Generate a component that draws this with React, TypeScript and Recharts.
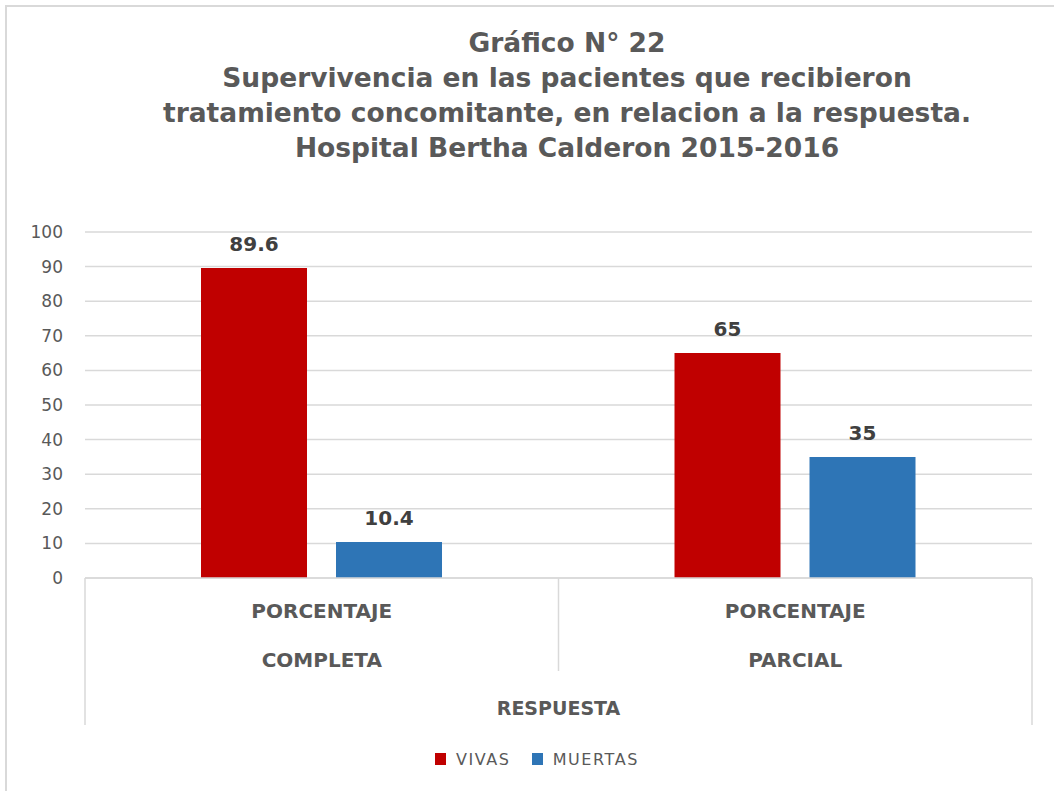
import React from 'react';
import {
  BarChart,
  Bar,
  XAxis,
  YAxis,
  CartesianGrid,
  Legend,
  LabelList,
} from 'recharts';

const categories = ['COMPLETA', 'PARCIAL'];
const metricLabels = ['PORCENTAJE', 'PORCENTAJE'];
const seriesNames = ['VIVAS', 'MUERTAS'];
const vivas = [89.6, 65];
const muertas = [10.4, 35];
const yTicks = [0, 10, 20, 30, 40, 50, 60, 70, 80, 90, 100];
const titleLines = [
  'Gráfico N° 22',
  'Supervivencia en las pacientes que recibieron',
  'tratamiento concomitante, en relacion a la respuesta.',
  'Hospital Bertha Calderon 2015-2016',
];

const data = categories.map((c, i) => ({
  respuesta: c,
  metric: metricLabels[i],
  vivas: vivas[i],
  muertas: muertas[i],
}));

const W = 1054;
const H = 791;
const margin = { top: 232, right: 22, left: 0, bottom: 66 };
const Y_AXIS_W = 85;
const ROW_H = 49;
const bandHalf = (W - margin.left - margin.right - Y_AXIS_W) / categories.length / 2;

const gray = '#595959';
const lineColor = '#d9d9d9';
const font = '"DejaVu Sans", sans-serif';

const MetricTick = (props: any) => {
  const { x, y, payload, index, visibleTicksCount } = props;
  const last = index === visibleTicksCount - 1;
  return (
    <g>
      <line
        x1={x - bandHalf}
        x2={x - bandHalf}
        y1={y}
        y2={index === 0 ? y + ROW_H * 3 : y + ROW_H * 2 - 5}
        stroke={lineColor}
        strokeWidth={1.5}
      />
      {last && (
        <line x1={x + bandHalf} x2={x + bandHalf} y1={y} y2={y + ROW_H * 3} stroke={lineColor} strokeWidth={1.5} />
      )}
      <text x={x} y={y + 40} textAnchor="middle" fill={gray} fontFamily={font} fontWeight="bold" fontSize={20}>
        {payload.value}
      </text>
    </g>
  );
};

const GroupTick = (props: any) => {
  const { x, y, payload } = props;
  return (
    <text x={x} y={y + 40} textAnchor="middle" fill={gray} fontFamily={font} fontWeight="bold" fontSize={20}>
      {payload.value}
    </text>
  );
};

const renderLegend = (props: any) => {
  const items = [...props.payload].sort(
    (a: any, b: any) => seriesNames.indexOf(a.value) - seriesNames.indexOf(b.value)
  );
  return (
    <div style={{ display: 'flex', justifyContent: 'center', alignItems: 'center', paddingLeft: 20, height: 24 }}>
      {items.map((entry: any, i: number) => (
        <div key={entry.value} style={{ display: 'flex', alignItems: 'center', marginLeft: i === 0 ? 0 : 21 }}>
          <span style={{ width: 11, height: 12, background: entry.color, marginRight: 10, display: 'inline-block' }} />
          <span style={{ fontFamily: font, fontSize: 16, letterSpacing: 1.6, color: gray }}>{entry.value}</span>
        </div>
      ))}
    </div>
  );
};

export default function App() {
  return (
    <div style={{ position: 'absolute', left: 0, top: 0, width: W, height: H, overflow: 'hidden', background: '#fff' }}>
      <div
        style={{
          position: 'absolute',
          left: 5,
          top: 5,
          width: W + 20,
          height: H + 20,
          border: `2px solid ${lineColor}`,
        }}
      />
      <svg style={{ position: 'absolute', left: 0, top: 0 }} width={W} height={200}>
        {titleLines.map((t, i) => (
          <text
            key={i}
            x={567}
            y={52 + i * 35}
            textAnchor="middle"
            fill={gray}
            fontFamily={font}
            fontWeight="bold"
            fontSize={26.5}
          >
            {t}
          </text>
        ))}
      </svg>
      <div style={{ position: 'absolute', left: 0, top: 0 }}>
        <BarChart width={W} height={H} data={data} margin={margin} barCategoryGap="24.5%" barGap={29}>
          <CartesianGrid horizontal vertical={false} stroke={lineColor} strokeWidth={1.5} />
          <YAxis
            width={Y_AXIS_W}
            domain={[0, 100]}
            ticks={yTicks}
            axisLine={false}
            tickLine={false}
            tickSize={0}
            tickMargin={22}
            tick={{ fill: gray, fontSize: 17, fontFamily: font }}
          />
          <XAxis
            dataKey="metric"
            height={ROW_H}
            tickSize={0}
            tickMargin={0}
            tickLine={false}
            axisLine={{ stroke: lineColor, strokeWidth: 1.5 }}
            interval={0}
            tick={<MetricTick />}
          />
          <XAxis
            xAxisId="grp"
            dataKey="respuesta"
            height={ROW_H}
            tickSize={0}
            tickMargin={0}
            tickLine={false}
            axisLine={false}
            interval={0}
            tick={<GroupTick />}
          />
          <XAxis
            xAxisId="resp"
            dataKey="respuesta"
            height={ROW_H}
            tick={false}
            tickLine={false}
            axisLine={false}
            label={{
              value: 'RESPUESTA',
              position: 'insideTop',
              offset: 26,
              fill: gray,
              fontSize: 19,
              fontWeight: 'bold',
              fontFamily: font,
            }}
          />
          <Legend
            verticalAlign="middle"
            align="center"
            layout="horizontal"
            content={renderLegend}
            wrapperStyle={{ top: 747, left: 0, width: W }}
          />
          <Bar dataKey="vivas" name={seriesNames[0]} fill="#c00000" isAnimationActive={false}>
            <LabelList dataKey="vivas" position="top" offset={17} fill="#404040" fontSize={20} fontWeight="bold" fontFamily={font} />
          </Bar>
          <Bar dataKey="muertas" name={seriesNames[1]} fill="#2e75b6" isAnimationActive={false}>
            <LabelList dataKey="muertas" position="top" offset={17} fill="#404040" fontSize={20} fontWeight="bold" fontFamily={font} />
          </Bar>
        </BarChart>
      </div>
    </div>
  );
}
